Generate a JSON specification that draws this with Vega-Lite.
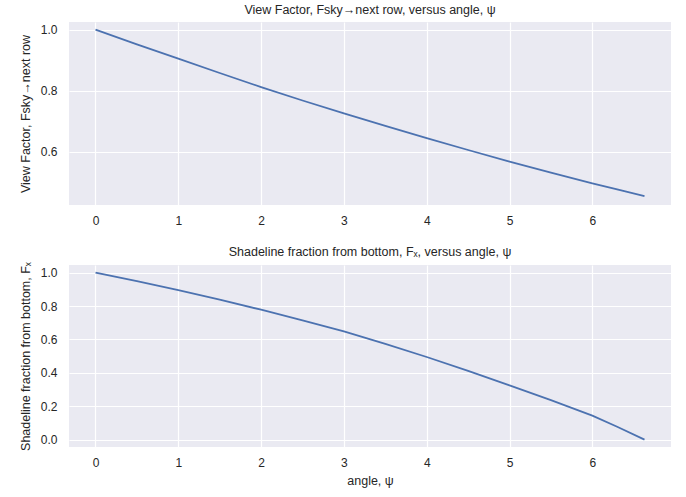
{
  "$schema": "https://vega.github.io/schema/vega-lite/v6.json",
  "background": "white",
  "padding": {"left": 19, "top": 3, "right": 9, "bottom": 5},
  "spacing": 20,
  "datasets": {
    "vf": [
      {"angle": 0, "value": 1.0},
      {"angle": 0.5, "value": 0.952},
      {"angle": 1, "value": 0.905},
      {"angle": 1.5, "value": 0.858},
      {"angle": 2, "value": 0.812},
      {"angle": 2.5, "value": 0.768},
      {"angle": 3, "value": 0.726},
      {"angle": 3.5, "value": 0.685},
      {"angle": 4, "value": 0.645},
      {"angle": 4.5, "value": 0.606},
      {"angle": 5, "value": 0.568},
      {"angle": 5.5, "value": 0.532},
      {"angle": 6, "value": 0.497},
      {"angle": 6.3, "value": 0.477},
      {"angle": 6.63, "value": 0.455}
    ],
    "fx": [
      {"angle": 0, "value": 1.0},
      {"angle": 0.5, "value": 0.949},
      {"angle": 1, "value": 0.895},
      {"angle": 1.5, "value": 0.838},
      {"angle": 2, "value": 0.778},
      {"angle": 2.5, "value": 0.715},
      {"angle": 3, "value": 0.648},
      {"angle": 3.5, "value": 0.574},
      {"angle": 4, "value": 0.495},
      {"angle": 4.5, "value": 0.412},
      {"angle": 5, "value": 0.325},
      {"angle": 5.5, "value": 0.237},
      {"angle": 6, "value": 0.144},
      {"angle": 6.3, "value": 0.077},
      {"angle": 6.63, "value": 0.0}
    ]
  },
  "config": {
    "font": "Liberation Sans",
    "view": {"fill": "#EAEAF2", "stroke": null},
    "axis": {
      "domain": false,
      "ticks": false,
      "grid": true,
      "gridColor": "#FFFFFF",
      "gridWidth": 1.2,
      "labelColor": "#262626",
      "labelFontSize": 12,
      "titleColor": "#262626",
      "titleFontSize": 12.5,
      "titleFontWeight": "normal"
    },
    "axisX": {"labelPadding": 10, "titlePadding": 6},
    "axisY": {"labelPadding": 12, "titlePadding": 8},
    "title": {"fontSize": 12.5, "fontWeight": "normal", "color": "#262626", "offset": 6}
  },
  "vconcat": [
    {
      "title": "View Factor, Fsky→next row, versus angle, ψ",
      "width": 602,
      "height": 183,
      "data": {"name": "vf"},
      "mark": {"type": "line", "color": "#4C72B0", "strokeWidth": 1.8},
      "encoding": {
        "x": {
          "field": "angle",
          "type": "quantitative",
          "scale": {"domain": [-0.32, 6.95], "nice": false, "zero": false},
          "axis": {"values": [0, 1, 2, 3, 4, 5, 6], "title": null, "format": "d"}
        },
        "y": {
          "field": "value",
          "type": "quantitative",
          "scale": {"domain": [0.426, 1.025], "nice": false, "zero": false},
          "axis": {"values": [0.6, 0.8, 1.0], "format": ".1f", "title": "View Factor, Fsky→next row"}
        }
      }
    },
    {
      "title": {"text": "Shadeline fraction from bottom, Fₓ, versus angle, ψ", "offset": 3},
      "width": 602,
      "height": 182,
      "data": {"name": "fx"},
      "mark": {"type": "line", "color": "#4C72B0", "strokeWidth": 1.8},
      "encoding": {
        "x": {
          "field": "angle",
          "type": "quantitative",
          "scale": {"domain": [-0.32, 6.95], "nice": false, "zero": false},
          "axis": {"values": [0, 1, 2, 3, 4, 5, 6], "title": "angle, ψ", "format": "d"}
        },
        "y": {
          "field": "value",
          "type": "quantitative",
          "scale": {"domain": [-0.044, 1.046], "nice": false, "zero": false},
          "axis": {"values": [0, 0.2, 0.4, 0.6, 0.8, 1.0], "format": ".1f", "title": "Shadeline fraction from bottom, Fₓ"}
        }
      }
    }
  ]
}
